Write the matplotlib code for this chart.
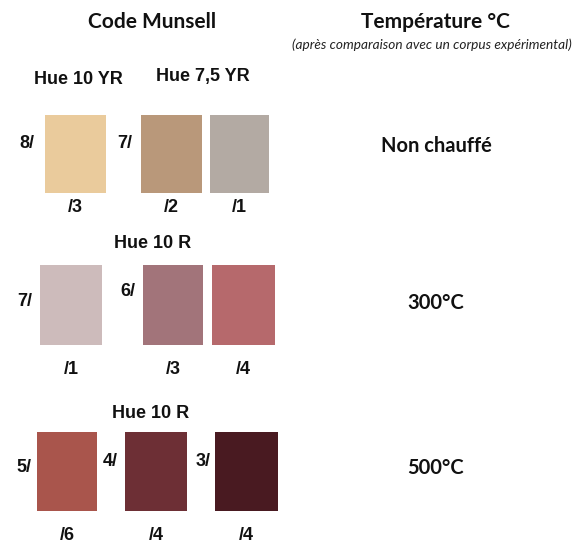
import matplotlib
matplotlib.use('Agg')
import matplotlib.pyplot as plt

# Munsell chips, read left to right, top to bottom
swatch_colors = ['#EACB9C', '#B9987A', '#B3AAA3',
                 '#CDBBBB', '#A2747A', '#B6696C',
                 '#A9554C', '#6D2F35', '#491A21']
value_labels = ['8/', '7/', '', '7/', '6/', '', '5/', '4/', '3/']
chroma_labels = ['/3', '/2', '/1', '/1', '/3', '/4', '/6', '/4', '/4']
hue_labels = ['Hue 10 YR', 'Hue 7,5 YR', 'Hue 10 R', 'Hue 10 R']
temperatures = ['Non chauffé', '300°C', '500°C']

# layout (pixels, origin top-left)
sw_left = [45, 141, 210, 40, 143, 212, 37, 125, 215]
sw_right = [106, 202, 269, 102, 203, 275, 97, 187, 278]
sw_top = [115, 115, 115, 265, 265, 265, 432, 432, 432]
sw_bottom = [193, 193, 193, 345, 345, 345, 511, 511, 511]
val_xy = [(27, 143), (125, 143), None, (25, 302), (128, 292), None,
          (24, 468), (110, 462), (203, 462)]
chroma_y = [208, 208, 208, 369, 369, 369, 535, 535, 535]
hue_xy = [(78, 79), (203, 76), (153, 244), (151, 414)]
temp_y = [146, 303, 468]

W, H = 580, 545
fig = plt.figure(figsize=(W / 100, H / 100), dpi=100)
ax = fig.add_axes([0, 0, 1, 1])
ax.set_xlim(0, W)
ax.set_ylim(H, 0)
ax.axis('off')

widths = [r - l for l, r in zip(sw_left, sw_right)]
heights = [b - t for t, b in zip(sw_top, sw_bottom)]
ax.bar(sw_left, heights, width=widths, bottom=sw_top, align='edge',
       color=swatch_colors, edgecolor='none')

lab_font = dict(family='Liberation Sans', weight='bold', fontsize=13,
                ha='center', va='center', color='#111111')
for i, lab in enumerate(value_labels):
    if lab:
        ax.text(val_xy[i][0], val_xy[i][1], lab, **lab_font)
    cx = (sw_left[i] + sw_right[i]) / 2
    ax.text(cx, chroma_y[i], chroma_labels[i], **lab_font)

for (hx, hy), lab in zip(hue_xy, hue_labels):
    ax.text(hx, hy, lab, **lab_font)

head_font = dict(family='Lato', weight='bold', fontsize=15,
                 ha='center', va='center', color='#111111')
ax.text(152, 22, 'Code Munsell', **head_font)
ax.text(435, 22, 'Température °C', **head_font)
ax.text(432, 45, '(après comparaison avec un corpus expérimental)',
        family='Lato', style='italic', fontsize=9.8, ha='center',
        va='center', color='#222222')

for ty, lab in zip(temp_y, temperatures):
    ax.text(436, ty, lab, **dict(head_font, fontsize=14.5))

fig.savefig('out.png', dpi=100, facecolor='white')
